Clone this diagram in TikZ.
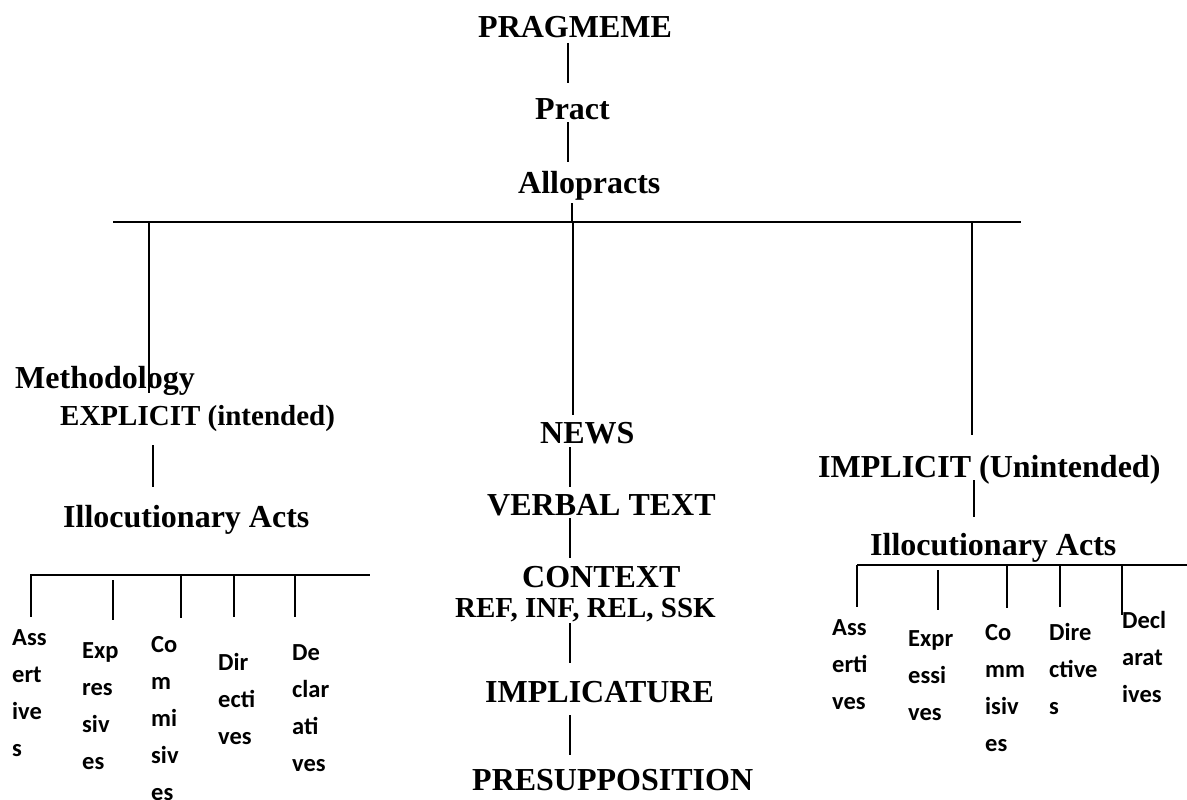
\documentclass[tikz,border=0pt]{standalone}
\usepackage{fontspec}
\setmainfont{Liberation Serif}
\newfontfamily\calib{Carlito}
\newcommand\vlines[1]{\vtop{\baselineskip=37pt\lineskiplimit=-100pt\halign{##\hfil\cr#1\crcr}}}
\tikzset{
  head/.style={font=\fontsize{32}{38}\selectfont\bfseries, inner sep=0pt, anchor=base west},
  subhead/.style={font=\fontsize{29}{34}\selectfont\bfseries, inner sep=0pt, anchor=base west},
  act/.style={font=\calib\fontsize{24.5}{37}\selectfont\bfseries, inner sep=0pt, anchor=base west},
  link/.style={line width=2.2pt}
}
\begin{document}
\begin{tikzpicture}[x=1pt,y=-1pt]
\useasboundingbox (0,0) rectangle (1187,800);
% top chain
\node[head] (prag) at (478,38) {PRAGMEME};
\node[head] (pract) at (535,120) {Pract};
\node[head] (allo) at (518,193) {Allopracts};
\coordinate (p1) at (568,43); \coordinate (p2) at (568,83);
\coordinate (p3) at (568,122); \coordinate (p4) at (568,162);
\coordinate (p5) at (572,203); \coordinate (p6) at (572,222);
\draw[link] (p1) -- (p2);
\draw[link] (p3) -- (p4);
\draw[link] (p5) -- (p6);
% main bar
\coordinate (barL) at (113,222); \coordinate (barR) at (1021,222);
\draw[link] (barL) -- (barR);
\coordinate (lT) at (149,222); \coordinate (lB) at (149,393);
\coordinate (cT) at (573,222); \coordinate (cB) at (573,415);
\coordinate (rT) at (972,222); \coordinate (rB) at (972,435);
\draw[link] (lT) -- (lB);
\draw[link] (cT) -- (cB);
\draw[link] (rT) -- (rB);
% left branch
\node[head] (meth) at (15,388) {Methodology};
\node[subhead] (expl) at (60,425) {EXPLICIT (intended)};
\coordinate (e1) at (153,445); \coordinate (e2) at (153,487);
\draw[link] (e1) -- (e2);
\node[head] (illL) at (63,527) {Illocutionary Acts};
\coordinate (sbL1) at (30,575); \coordinate (sbL2) at (370,575);
\draw[link] (sbL1) -- (sbL2);
\coordinate (a1) at (31,575);  \coordinate (a1b) at (31,617);
\coordinate (a2) at (113,580); \coordinate (a2b) at (113,620);
\coordinate (a3) at (181,575); \coordinate (a3b) at (181,618);
\coordinate (a4) at (234,575); \coordinate (a4b) at (234,617);
\coordinate (a5) at (295,575); \coordinate (a5b) at (295,617);
\foreach \t/\b in {a1/a1b,a2/a2b,a3/a3b,a4/a4b,a5/a5b} \draw[link] (\t) -- (\b);
\node[act] (lass) at (12,645) {\vlines{Ass\cr ert\cr ive\cr s}};
\node[act] (lexp) at (82,658) {\vlines{Exp\cr res\cr siv\cr es}};
\node[act] (lcom) at (151,652) {\vlines{Co\cr m\cr mi\cr siv\cr es}};
\node[act] (ldir) at (218,670) {\vlines{Dir\cr ecti\cr ves}};
\node[act] (ldec) at (292,660) {\vlines{De\cr clar\cr ati\cr ves}};
% center branch
\node[head] (news) at (540,443) {NEWS};
\node[head] (verb) at (487,515) {VERBAL TEXT};
\node[head] (cont) at (522,587) {CONTEXT};
\node[subhead] (ref) at (455,617) {REF, INF, REL, SSK};
\node[head] (impl) at (485,702) {IMPLICATURE};
\node[head] (pres) at (472,790) {PRESUPPOSITION};
\coordinate (c1) at (570,447); \coordinate (c2) at (570,487);
\coordinate (c3) at (570,518); \coordinate (c4) at (570,558);
\coordinate (c5) at (570,623); \coordinate (c6) at (570,663);
\coordinate (c7) at (570,715); \coordinate (c8) at (570,755);
\draw[link] (c1) -- (c2);
\draw[link] (c3) -- (c4);
\draw[link] (c5) -- (c6);
\draw[link] (c7) -- (c8);
% right branch
\node[head] (implicit) at (818,477) {IMPLICIT (Unintended)};
\coordinate (i1) at (974,480); \coordinate (i2) at (974,517);
\draw[link] (i1) -- (i2);
\node[head] (illR) at (870,555) {Illocutionary Acts};
\coordinate (sbR1) at (857,565); \coordinate (sbR2) at (1187,565);
\draw[link] (sbR1) -- (sbR2);
\coordinate (b1) at (857,565);  \coordinate (b1b) at (857,607);
\coordinate (b2) at (938,570);  \coordinate (b2b) at (938,610);
\coordinate (b3) at (1007,565); \coordinate (b3b) at (1007,608);
\coordinate (b4) at (1060,565); \coordinate (b4b) at (1060,607);
\coordinate (b5) at (1122,565); \coordinate (b5b) at (1122,615);
\foreach \t/\b in {b1/b1b,b2/b2b,b3/b3b,b4/b4b,b5/b5b} \draw[link] (\t) -- (\b);
\node[act] (rass) at (832,635) {\vlines{Ass\cr erti\cr ves}};
\node[act] (rexp) at (908,646) {\vlines{Expr\cr essi\cr ves}};
\node[act] (rcom) at (985,640) {\vlines{Co\cr mm\cr isiv\cr es}};
\node[act] (rdir) at (1049,640) {\vlines{Dire\cr ctive\cr s}};
\node[act] (rdec) at (1122,628) {\vlines{Decl\cr arat\cr ives}};
\end{tikzpicture}
\end{document}
